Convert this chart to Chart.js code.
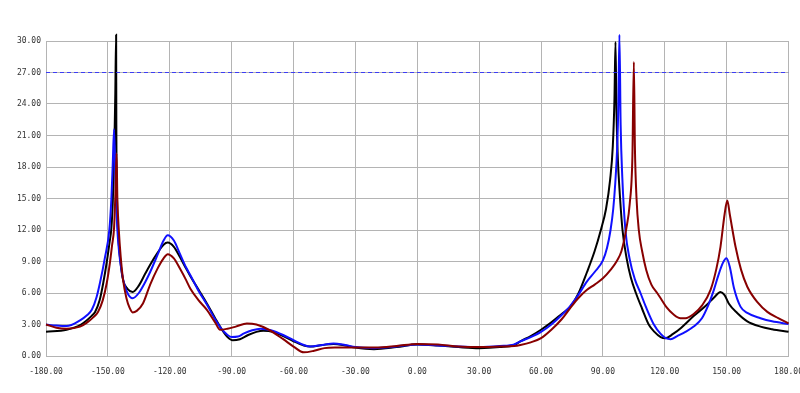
<!DOCTYPE html>
<html>
<head>
<meta charset="utf-8">
<script src="https://cdn.jsdelivr.net/npm/chart.js@4"></script>
<style>
  html, body { margin: 0; padding: 0; background: #fff; overflow: hidden; }
  #clip { width: 800px; height: 393px; overflow: hidden; }
  #wrap { width: 814px; height: 393px; }
</style>
</head>
<body>
<div id="clip"><div id="wrap"><canvas id="chart"></canvas></div></div>
<script>
// =====================
// Data
// =====================
const xTicks = [-180, -150, -120, -90, -60, -30, 0, 30, 60, 90, 120, 150, 180];
const yTicks = [0, 3, 6, 9, 12, 15, 18, 21, 24, 27, 30];
const refLevel = 27;

// [angle, value]
const blackPoints = [
  [-180,2.3],[-170,2.5],[-163,3.0],[-158,3.8],[-156.2,4.2],[-154,5.3],[-152.2,7.0],[-150.5,9.0],
  [-149.2,10.8],[-148.3,12.2],[-147.6,14.8],[-146.9,19.5],[-146.4,25],[-146,30.6],[-145.9,22],[-145.6,15.2],[-145.1,12],
  [-143.8,8.8],[-142.6,7.2],[-140.5,6.4],[-138,6.1],[-135,6.7],[-132,7.8],[-129.5,8.7],[-126,9.8],
  [-123,10.6],[-121,10.8],[-118,10.4],[-115,9.4],[-112,8.3],[-110,7.6],[-106,6.3],[-102,5.0],
  [-98,3.6],[-95,2.6],[-92,1.8],[-89.5,1.5],[-86,1.6],[-82,2.0],[-78,2.3],[-74.6,2.4],[-70,2.3],
  [-65,1.9],[-60,1.4],[-55,1.0],[-52,0.9],[-46,1.05],[-40.6,1.15],[-35,1.0],[-30,0.8],[-21,0.65],
  [-10,0.85],[0,1.1],[10,1.0],[20,0.85],[30,0.75],[40,0.85],[47,1.05],[50,1.4],[55,1.9],[60,2.5],
  [65,3.2],[70,4.0],[74.3,4.7],[78,5.9],[82.3,8.0],[86,10.0],[89,12.0],[91.5,14.0],[93.5,16.8],
  [94.8,20],[95.6,24.5],[96.1,29.9],[96.6,23],[97.3,18.5],[98,16],[99.5,12],[101.5,9.3],[103.5,7.5],[106,6],[109,4.5],
  [112.2,3.0],[115,2.3],[118,1.8],[120.3,1.7],[124,2.1],[128,2.7],[134,3.8],[140,4.8],[144,5.6],
  [147,6.1],[149,5.8],[151,5.0],[155.1,4.1],[160,3.3],[166.4,2.8],[172,2.55],[180,2.3]
];

const bluePoints = [
  [-180,3.0],[-175,2.9],[-170,2.85],[-163.5,3.4],[-160,3.9],[-157.8,4.4],[-155.5,5.6],[-153.8,7.0],
  [-151.5,9.3],[-149.3,12],[-148.3,15],[-147.6,18.5],[-147,21.6],[-146.5,18],[-146,15],[-145.4,12],
  [-144.5,9.8],[-143.5,8.3],[-142.6,7.3],[-140.5,6.0],[-138,5.5],[-135,6.0],[-132,7.0],[-129.5,8.0],
  [-126,9.6],[-123,11.0],[-121,11.5],[-118,11.0],[-115,9.7],[-112,8.4],[-110,7.7],[-106,6.2],
  [-102,4.9],[-98,3.5],[-95,2.6],[-92,2.0],[-90,1.8],[-87,1.85],[-84,2.15],[-80,2.45],[-76,2.6],
  [-71,2.45],[-65,2.0],[-60,1.5],[-55,1.05],[-52,0.9],[-46,1.05],[-40.6,1.2],[-35,1.05],[-30,0.85],
  [-21,0.75],[-10,0.9],[0,1.1],[10,1.0],[20,0.9],[30,0.85],[40,0.95],[47,1.1],[50,1.4],[55,1.8],
  [60,2.3],[65,3.0],[70,3.9],[74.3,4.8],[78,5.8],[82.3,7.1],[86,8.0],[90,9.1],[92,10.3],[93.7,12],
  [95,14],[96,16.5],[96.9,19.8],[97.5,24],[98,30.6],[98.6,22],[99.4,17],[100.9,12],[103,9.2],[105.5,7.3],
  [108.2,6],[111,4.6],[114.7,3.0],[118,2.1],[120.5,1.7],[122.8,1.6],[126,1.9],[130,2.3],[134,2.8],
  [138,3.6],[141,4.8],[143.8,6.3],[146,7.7],[148,8.8],[149.9,9.3],[151.5,8.5],[153.5,6.5],
  [156.7,4.7],[160,4.1],[166.4,3.6],[172,3.3],[180,3.05]
];

const redPoints = [
  [-180,3.0],[-175,2.7],[-170,2.6],[-163.5,2.8],[-160,3.2],[-157,3.7],[-154.8,4.2],[-152.5,5.3],
  [-150.5,7.0],[-149,8.9],[-148,10.5],[-147,12.2],[-146.4,15.2],[-145.8,19.3],[-145.4,15],[-144.7,12],
  [-143.8,9.5],[-142.6,7.2],[-141,5.5],[-139.5,4.6],[-138,4.15],[-136,4.3],[-133,5.0],[-129.5,6.8],
  [-126,8.3],[-123,9.3],[-121,9.7],[-118,9.3],[-115,8.3],[-112,7.2],[-110,6.4],[-106,5.3],[-102,4.4],
  [-98,3.2],[-95.6,2.5],[-92,2.6],[-88,2.8],[-82.6,3.1],[-78,3.0],[-72,2.5],[-65,1.6],[-60,0.9],
  [-55,0.35],[-50,0.5],[-45,0.75],[-40,0.8],[-30,0.8],[-20,0.8],[-10,0.95],[0,1.15],[10,1.1],
  [20,0.9],[30,0.85],[40,0.9],[47,0.95],[50,1.05],[55,1.3],[60,1.7],[65,2.5],[70,3.5],[74.3,4.6],
  [78,5.5],[82.3,6.3],[86,6.8],[90,7.4],[93.7,8.2],[96.9,9.1],[99,10],[101.4,12.2],[103,14.5],
  [104.3,19],[105,28],[105.5,20],[106.3,15],[107.4,12],[109,10],[111,8.2],[113.5,6.8],[116.3,6],
  [118,5.5],[121,4.6],[124,4.0],[127.6,3.6],[130,3.6],[134,4.0],[138,4.8],[142.2,6.3],[145,8.3],
  [147,10.4],[149,13.5],[150.3,14.8],[151.5,13.5],[154.3,10.4],[157,8.2],[160,6.6],[165,5.1],
  [169.7,4.2],[175,3.6],[180,3.1]
];

// =====================
// Helpers
// =====================
function toXY(points) {
  return points.map(p => ({ x: p[0], y: p[1] }));
}

function lineSet(points, color) {
  return {
    data: toXY(points),
    borderColor: color,
    borderWidth: 2,
    pointRadius: 0,
    fill: false,
    cubicInterpolationMode: "monotone",
    clip: false
  };
}

// =====================
// Chart.js
// =====================
const ctx = document.getElementById("chart").getContext("2d");
new Chart(ctx, {
  type: "line",
  data: {
    datasets: [
      {
        data: [{ x: xTicks[0], y: refLevel }, { x: xTicks[xTicks.length - 1], y: refLevel }],
        borderColor: "rgba(40,40,255,0.85)",
        borderWidth: 1,
        borderDash: [4, 3],
        pointRadius: 0,
        fill: false
      },
      lineSet(redPoints, "#880000"),
      lineSet(bluePoints, "#1010ff"),
      lineSet(blackPoints, "#000000")
    ]
  },
  options: {
    responsive: true,
    maintainAspectRatio: false,
    animation: false,
    events: [],
    layout: { padding: { top: 41, right: 0, left: 0, bottom: 0 } },
    plugins: { legend: { display: false }, tooltip: { enabled: false } },
    scales: {
      x: {
        type: "linear",
        min: xTicks[0],
        max: xTicks[xTicks.length - 1],
        afterBuildTicks: s => { s.ticks = xTicks.map(v => ({ value: v })); },
        afterFit: s => { s.height = 37; },
        grid: { color: "#b4b4b4", lineWidth: 1, drawTicks: false },
        border: { color: "#b4b4b4" },
        ticks: {
          padding: 11,
          color: "#333",
          font: { family: "DejaVu Sans Mono", size: 8 },
          callback: v => v.toFixed(2),
          maxRotation: 0,
          autoSkip: false
        }
      },
      y: {
        min: yTicks[0],
        max: yTicks[yTicks.length - 1],
        afterBuildTicks: s => { s.ticks = yTicks.map(v => ({ value: v })); },
        afterFit: s => { s.width = 46; },
        grid: { color: "#b4b4b4", lineWidth: 1, drawTicks: false },
        border: { color: "#b4b4b4" },
        ticks: {
          padding: 5,
          color: "#333",
          font: { family: "DejaVu Sans Mono", size: 8 },
          callback: v => v.toFixed(2)
        }
      }
    }
  }
});
</script>
</body>
</html>
